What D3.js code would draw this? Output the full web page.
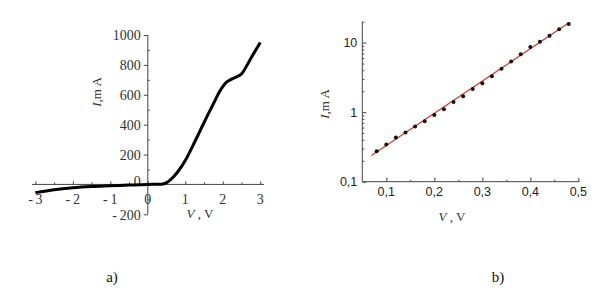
<!DOCTYPE html>
<html><head><meta charset="utf-8">
<script src="https://cdn.jsdelivr.net/npm/d3@7"></script>
<style>
body{margin:0;background:#fff;}
svg{display:block;}
</style></head>
<body>
<svg id="c" width="613" height="305"></svg>
<script>
// ---- panel a) I-V curve ----
const ivVoltage = [-3, -2.5, -2, -1.5, -1, -0.5, 0, 0.3, 0.4, 0.5, 0.6, 0.7, 0.8, 1.0, 1.2, 1.4, 1.6, 1.8, 1.9, 2.0, 2.1, 2.2, 2.35, 2.5, 2.75, 3.0];
const ivCurrent = [-55, -35, -22, -14, -9, -4, 0, 1, 3, 12, 30, 55, 85, 160, 258, 362, 465, 565, 615, 655, 684, 700, 718, 740, 845, 950];
const aXTicks = [-3, -2, -1, 0, 1, 2, 3];
const aYTicks = [-200, 0, 200, 400, 600, 800, 1000];

// ---- panel b) log plot ----
const logVoltage = [0.08, 0.10, 0.12, 0.14, 0.16, 0.18, 0.20, 0.22, 0.24, 0.26, 0.28, 0.30, 0.32, 0.34, 0.36, 0.38, 0.40, 0.42, 0.44, 0.46, 0.48];
const logCurrent = [0.274, 0.343, 0.432, 0.51, 0.62, 0.74, 0.91, 1.10, 1.40, 1.69, 2.16, 2.61, 3.29, 4.2, 5.37, 6.78, 8.63, 10.3, 12.6, 15.6, 18.6];
const fitVoltage = [0.069, 0.481];
const fitCurrent = [0.238, 19.4];
const bXTicks = [0.1, 0.2, 0.3, 0.4, 0.5];
const bYTicks = [0.1, 1, 10];

const svg = d3.select("#c");
const serif = "Liberation Serif";
const sans = "Liberation Sans";

// ===== Panel a =====
const ax = d3.scaleLinear().domain([-3.09, 3.1]).range([32, 264]);
const ay = d3.scaleLinear().domain([-200, 1000]).range([214.3, 35]);
const ga = svg.append("g");

const yAxA = d3.axisLeft(ay).tickValues(aYTicks).tickSize(4).tickPadding(3)
  .tickFormat(d => d < 0 ? "-\u2009" + Math.abs(d) : d);
const gya = ga.append("g").attr("transform", `translate(${ax(0)},0)`).call(yAxA);
gya.select(".domain").attr("d", `M0,${ay(-200)}V${ay(1000)}`);
const gyam = ga.append("g").attr("transform", `translate(${ax(0)},0)`)
  .call(d3.axisRight(ay).tickValues(d3.range(-100, 1000, 200)).tickSize(2).tickFormat(""));
gyam.select(".domain").remove();
gya.selectAll("text").attr("dy", "0.35em").filter(d => d === 0).attr("dy", "0.05em");

const gxa = ga.append("g").attr("transform", `translate(0,${ay(0)})`)
  .call(d3.axisTop(ax).tickValues(aXTicks).tickSize(3).tickFormat(""));
gxa.select(".domain").attr("d", `M${ax.range()[0]},0H${ax.range()[1]}`);
const gxam = ga.append("g").attr("transform", `translate(0,${ay(0)})`)
  .call(d3.axisTop(ax).tickValues(d3.range(-2.5, 3, 1)).tickSize(2).tickFormat(""));
gxam.select(".domain").remove();
ga.append("g").selectAll("text").data(aXTicks).join("text")
  .attr("x", d => ax(d)).attr("y", ay(0) + 20)
  .attr("text-anchor", "middle")
  .text(d => d < 0 ? "-\u2009" + Math.abs(d) : d);

ga.selectAll("text").style("font-family", serif).style("font-size", "14px").attr("fill", "#333");
ga.selectAll("path.domain, line").attr("stroke", "#444").attr("stroke-width", 1);

ga.append("path")
  .datum(ivVoltage.map((v, i) => [v, ivCurrent[i]]))
  .attr("fill", "none").attr("stroke", "#000").attr("stroke-width", 3)
  .attr("stroke-linejoin", "round")
  .attr("d", d3.line().x(d => ax(d[0])).y(d => ay(d[1])).curve(d3.curveMonotoneX));

const tA = ga.append("text").attr("transform", `translate(101,92) rotate(-90)`)
  .attr("text-anchor", "middle").style("font-family", serif).style("font-size", "13px").attr("fill", "#333");
tA.append("tspan").attr("font-style", "italic").text("I");
tA.append("tspan").text(",m A");
const xtA = ga.append("text").attr("x", 200).attr("y", 218).attr("text-anchor", "middle")
  .style("font-family", serif).style("font-size", "13px").attr("fill", "#333");
xtA.append("tspan").attr("font-style", "italic").text("V");
xtA.append("tspan").text(" , V");

// ===== Panel b =====
const bx = d3.scaleLinear().domain([0.05, 0.502]).range([362.3, 579.3]);
const by = d3.scaleLog().domain([0.1, 20]).range([181.7, 21.7]);
const gb = svg.append("g");

const minorY = [];
[0.1, 1, 10].forEach(dec => { for (let k = 2; k <= 9; k++) { const v = dec * k; if (v <= 20) minorY.push(v); } });

const gyb = gb.append("g").attr("transform", `translate(${bx.range()[0]},0)`)
  .call(d3.axisRight(by).tickValues(bYTicks).tickSize(4).tickFormat(""));
gyb.select(".domain").attr("d", `M0,${by.range()[0]}V${by.range()[1]}`);
const gybm = gb.append("g").attr("transform", `translate(${bx.range()[0]},0)`)
  .call(d3.axisRight(by).tickValues(minorY).tickSize(2).tickFormat(""));
gybm.select(".domain").remove();
gb.append("g").selectAll("text").data(bYTicks).join("text")
  .attr("class", "lbl")
  .attr("x", bx.range()[0] - 5).attr("y", d => by(d)).attr("dy", "0.35em")
  .attr("text-anchor", "end")
  .text(d => String(d).replace(".", ","));

const gxb = gb.append("g").attr("transform", `translate(0,${by.range()[0]})`)
  .call(d3.axisTop(bx).tickValues(bXTicks).tickSize(4).tickFormat(""));
gxb.select(".domain").attr("d", `M${bx.range()[0]},0H${bx.range()[1]}`);
const gxbm = gb.append("g").attr("transform", `translate(0,${by.range()[0]})`)
  .call(d3.axisTop(bx).tickValues([0.15, 0.25, 0.35, 0.45]).tickSize(2).tickFormat(""));
gxbm.select(".domain").remove();
gb.append("g").selectAll("text").data(bXTicks).join("text")
  .attr("class", "lbl")
  .attr("x", d => bx(d)).attr("y", by.range()[0] + 14)
  .attr("text-anchor", "middle")
  .text(d => d3.format(".1f")(d).replace(".", ","));

gb.selectAll("text.lbl").style("font-family", sans).style("font-size", "12.5px").attr("fill", "#222");
gb.selectAll("path.domain, line").attr("stroke", "#444").attr("stroke-width", 1);

gb.append("path")
  .datum(fitVoltage.map((v, i) => [v, fitCurrent[i]]))
  .attr("fill", "none").attr("stroke", "#e03030").attr("stroke-width", 1.2)
  .attr("d", d3.line().x(d => bx(d[0])).y(d => by(d[1])));

gb.append("g").selectAll("circle").data(logVoltage.map((v, i) => [v, logCurrent[i]])).join("circle")
  .attr("cx", d => bx(d[0])).attr("cy", d => by(d[1])).attr("r", 2).attr("fill", "#111");

const tB = gb.append("text").attr("transform", `translate(329,104) rotate(-90)`)
  .attr("text-anchor", "middle").style("font-family", serif).style("font-size", "13px").attr("fill", "#333");
tB.append("tspan").attr("font-style", "italic").text("I");
tB.append("tspan").text(",m A");
const xtB = gb.append("text").attr("x", 452).attr("y", 221).attr("text-anchor", "middle")
  .style("font-family", serif).style("font-size", "13px").attr("fill", "#333");
xtB.append("tspan").attr("font-style", "italic").text("V");
xtB.append("tspan").text(" , V");

svg.append("text").attr("x", 112).attr("y", 282).attr("text-anchor", "middle")
  .style("font-family", serif).style("font-size", "15px").attr("fill", "#111").text("a)");
svg.append("text").attr("x", 498).attr("y", 282).attr("text-anchor", "middle")
  .style("font-family", serif).style("font-size", "15px").attr("fill", "#111").text("b)");
</script>
</body></html>
